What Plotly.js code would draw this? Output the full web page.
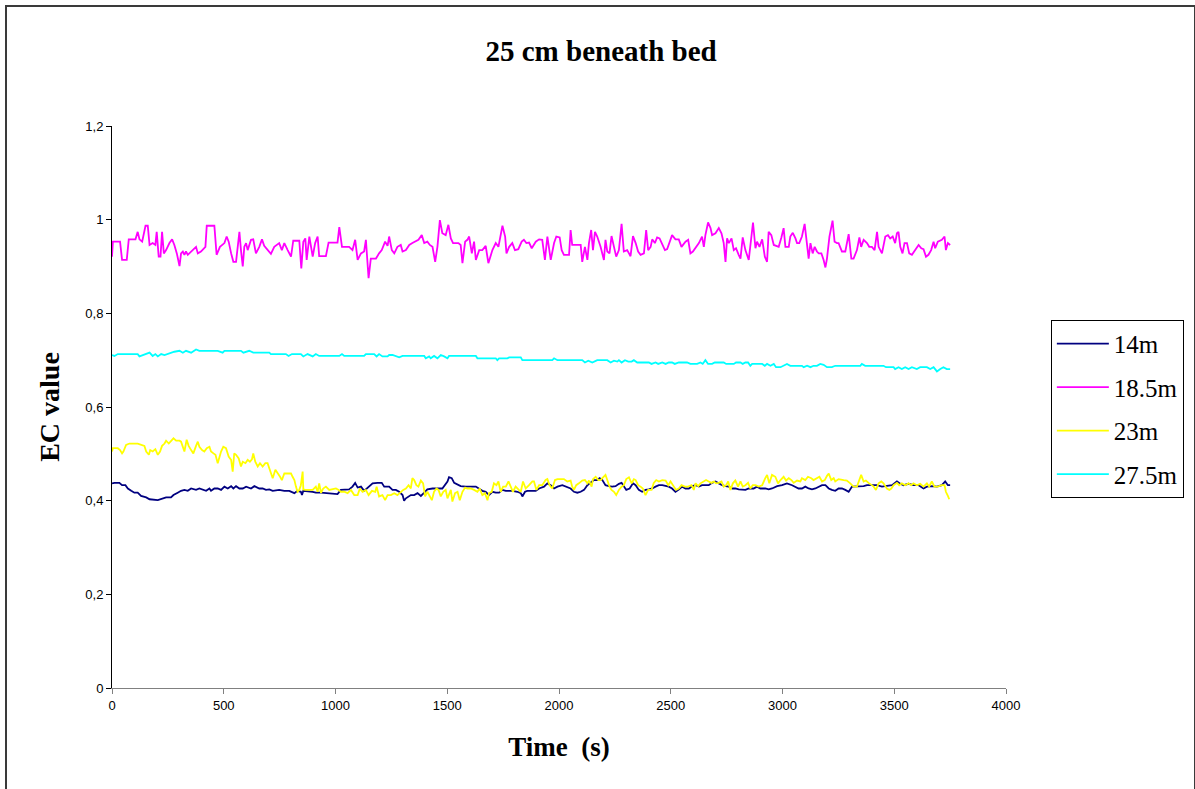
<!DOCTYPE html>
<html>
<head>
<meta charset="utf-8">
<script src="https://cdn.plot.ly/plotly-3.0.1.min.js"></script>
<style>
  html, body { margin: 0; padding: 0; background: #fff; overflow: hidden; }
  #chart { width: 1195px; height: 789px; }
  #frame { position: absolute; left: 5px; top: 5px; width: 1187px; height: 900px;
           border: 2px solid #3a3a3a; pointer-events: none; }
</style>
</head>
<body>
<div id="chart"></div>
<div id="frame"></div>
<script>
// ---------- Data ----------
const seriesNames = ["14m", "18.5m", "23m", "27.5m"];
const seriesColors = ["#000080", "#FF00FF", "#FFFF00", "#00FFFF"];

// 14m
const t14 = [
 0,11,33,45,60,71,86,100,115,130,
 153,168,205,220,242,264,275,294,309,324,
 339,354,376,391,406,421,436,443,458,473,
 488,503,518,533,543,555,570,585,600,622,
 637,659,674,689,704,719,748,771,793,816,
 830,845,850,856,898,912,935,957,987,1009,
 1024,1047,1061,1076,1088,1099,1114,1128,1148,1166,
 1188,1207,1218,1240,1255,1270,1285,1300,1307,1315,
 1337,1352,1367,1382,1397,1411,1434,1478,1501,1508,
 1520,1531,1560,1583,1628,1643,1657,1672,1687,1702,
 1717,1732,1747,1762,1791,1814,1829,1836,1848,1858,
 1896,1911,1933,1948,1963,1978,1993,2015,2030,2052,
 2067,2082,2097,2112,2127,2141,2156,2171,2182,2194,
 2208,2223,2238,2253,2268,2280,2290,2301,2316,2331,
 2343,2357,2372,2387,2402,2417,2432,2447,2462,2477,
 2491,2506,2521,2536,2551,2566,2581,2596,2611,2626,
 2640,2655,2670,2685,2700,2715,2730,2745,2760,2775,
 2789,2804,2819,2834,2849,2871,2886,2901,2923,2938,
 2953,2976,2998,3020,3043,3058,3072,3087,3102,3117,
 3132,3147,3162,3177,3192,3207,3221,3236,3251,3266,
 3281,3296,3311,3326,3341,3363,3378,3400,3423,3445,
 3460,3490,3512,3527,3542,3564,3586,3609,3631,3646,
 3668,3691,3713,3728,3740,3750];
const v14 = [
 .437,.438,.438,.433,.433,.426,.421,.417,.417,.410,
 .407,.403,.401,.403,.407,.407,.412,.417,.421,.423,
 .421,.426,.423,.426,.423,.421,.426,.421,.426,.426,
 .423,.430,.426,.431,.426,.431,.426,.426,.430,.426,
 .431,.426,.426,.423,.424,.421,.423,.421,.421,.416,
 .421,.419,.412,.421,.419,.417,.417,.416,.414,.414,
 .423,.423,.424,.430,.438,.428,.430,.421,.430,.437,
 .438,.438,.430,.430,.423,.423,.419,.412,.400,.405,
 .412,.412,.416,.410,.417,.424,.426,.426,.441,.450,
 .448,.438,.431,.430,.430,.426,.421,.419,.412,.419,
 .417,.417,.423,.421,.421,.419,.416,.409,.419,.421,
 .421,.426,.430,.437,.433,.426,.430,.433,.430,.426,
 .419,.417,.419,.423,.433,.438,.444,.444,.448,.444,
 .433,.431,.430,.431,.436,.438,.430,.423,.426,.437,
 .433,.423,.419,.423,.424,.426,.430,.433,.433,.431,
 .430,.426,.419,.424,.430,.426,.426,.431,.433,.430,
 .433,.433,.433,.438,.441,.437,.433,.431,.430,.426,
 .426,.424,.424,.423,.426,.426,.430,.426,.426,.424,
 .426,.431,.433,.437,.433,.430,.426,.426,.430,.426,
 .424,.426,.430,.433,.433,.426,.423,.421,.426,.426,
 .423,.419,.430,.430,.431,.431,.433,.433,.433,.430,
 .431,.433,.441,.436,.433,.436,.433,.433,.426,.430,
 .431,.430,.433,.441,.433,.433];

// 18.5m
const t185 = [
 0,4,36,45,66,71,75,105,115,123,
 135,150,160,168,182,194,200,209,217,224,
 232,242,257,269,279,290,302,309,317,324,
 331,339,354,364,376,384,398,418,424,458,
 468,483,503,513,522,533,543,555,570,577,
 585,592,600,607,622,632,644,659,671,681,
 696,711,726,748,760,771,786,801,811,838,
 847,856,865,871,883,898,909,920,927,957,
 969,1009,1017,1029,1061,1076,1088,1099,1114,1128,
 1136,1148,1158,1181,1195,1207,1222,1233,1240,1252,
 1263,1277,1292,1300,1315,1330,1344,1356,1371,1386,
 1397,1411,1422,1434,1446,1456,1467,1478,1493,1505,
 1516,1526,1550,1560,1568,1580,1590,1598,1610,1620,
 1628,1643,1657,1672,1684,1702,1717,1729,1747,1759,
 1765,1777,1791,1803,1818,1833,1843,1854,1866,1878,
 1896,1911,1925,1937,1948,1963,1978,1988,2003,2012,
 2022,2045,2052,2059,2097,2104,2116,2127,2134,2144,
 2152,2161,2171,2186,2201,2208,2216,2226,2235,2246,
 2256,2268,2280,2290,2305,2320,2331,2343,2354,2365,
 2380,2390,2399,2410,2417,2429,2439,2450,2462,2474,
 2484,2494,2506,2521,2536,2548,2566,2578,2588,2599,
 2611,2626,2640,2648,2655,2667,2678,2685,2700,2715,
 2727,2737,2745,2752,2760,2772,2782,2792,2804,2812,
 2822,2834,2849,2861,2868,2879,2886,2897,2909,2921,
 2931,2938,2950,2961,2971,2983,2995,3005,3013,3028,
 3035,3046,3058,3065,3075,3087,3099,3117,3125,3135,
 3144,3154,3162,3174,3184,3192,3199,3210,3224,3233,
 3244,3251,3266,3281,3296,3308,3318,3333,3344,3352,
 3363,3378,3388,3400,3412,3423,3430,3445,3460,3472,
 3482,3493,3504,3512,3519,3527,3537,3546,3557,3567,
 3579,3594,3609,3621,3631,3642,3653,3665,3676,3683,
 3695,3713,3725,3731,3740,3750];
const v185 = [
 .921,.953,.953,.914,.914,.950,.958,.958,.974,.958,
 .953,.987,.987,.946,.950,.946,.974,.921,.921,.974,
 .928,.935,.950,.958,.946,.928,.901,.928,.932,.925,
 .932,.925,.932,.935,.942,.928,.932,.942,.987,.987,
 .925,.942,.950,.964,.953,.928,.910,.910,.974,.935,
 .900,.942,.950,.935,.957,.958,.928,.942,.958,.944,
 .935,.927,.942,.950,.935,.950,.935,.921,.955,.955,
 .896,.953,.960,.914,.964,.921,.950,.964,.922,.922,
 .951,.951,.984,.942,.942,.935,.957,.914,.928,.932,
 .957,.875,.917,.917,.928,.935,.953,.944,.964,.935,
 .928,.942,.946,.932,.935,.946,.950,.953,.957,.967,
 .950,.953,.946,.942,.910,.942,.999,.971,.967,.989,
 .960,.950,.950,.946,.907,.953,.957,.964,.928,.953,
 .914,.935,.935,.944,.907,.935,.950,.942,.987,.964,
 .928,.942,.950,.935,.937,.953,.957,.950,.951,.939,
 .953,.958,.957,.914,.964,.914,.950,.964,.962,.935,
 .925,.925,.978,.946,.946,.910,.942,.914,.950,.978,
 .935,.974,.964,.942,.914,.957,.932,.928,.965,.942,
 .921,.935,.991,.932,.935,.922,.965,.950,.932,.925,
 .928,.978,.935,.942,.958,.950,.962,.960,.946,.935,
 .937,.953,.967,.958,.958,.942,.953,.957,.928,.932,
 .939,.950,.964,.942,.967,.994,.982,.967,.971,.982,
 .971,.950,.910,.960,.950,.960,.935,.939,.925,.917,
 .962,.935,.914,.964,.994,.939,.953,.942,.958,.921,
 .910,.974,.967,.946,.944,.942,.962,.982,.942,.942,
 .964,.972,.960,.950,.950,.964,.991,.917,.950,.928,
 .942,.932,.928,.928,.914,.898,.917,.964,.998,.953,
 .950,.950,.932,.932,.969,.917,.917,.935,.962,.942,
 .957,.950,.942,.942,.935,.974,.942,.928,.964,.967,
 .960,.964,.950,.971,.974,.942,.928,.950,.950,.928,
 .925,.935,.946,.939,.937,.921,.925,.935,.953,.939,
 .953,.957,.964,.935,.950,.946];

// 23m
const t23 = [
 0,4,26,36,45,51,63,78,115,130,
 145,153,165,171,182,194,205,215,224,235,
 242,254,264,275,287,302,309,317,324,334,
 343,354,364,376,384,391,403,413,424,436,
 443,454,463,473,480,488,498,510,522,533,
 540,547,555,567,577,585,597,607,617,626,
 632,641,652,662,674,686,696,707,719,731,
 741,752,760,771,786,801,808,816,823,830,
 838,845,853,856,865,898,912,920,927,935,
 945,957,972,987,1002,1014,1024,1039,1054,1069,
 1084,1099,1109,1121,1136,1148,1163,1178,1184,1195,
 1210,1222,1233,1248,1263,1277,1292,1303,1315,1327,
 1337,1344,1352,1362,1371,1382,1392,1401,1411,1419,
 1431,1441,1452,1461,1471,1482,1493,1501,1516,1523,
 1535,1546,1556,1568,1580,1590,1605,1620,1635,1645,
 1657,1669,1680,1687,1699,1709,1720,1729,1739,1750,
 1762,1774,1784,1794,1806,1818,1829,1839,1851,1866,
 1881,1888,1899,1911,1925,1940,1948,1958,1970,1982,
 1993,2022,2037,2052,2059,2067,2077,2089,2104,2116,
 2127,2134,2146,2152,2164,2176,2186,2194,2201,2208,
 2216,2226,2235,2246,2256,2268,2280,2290,2301,2313,
 2325,2335,2343,2354,2365,2375,2387,2399,2414,2424,
 2435,2447,2462,2477,2489,2499,2514,2524,2536,2548,
 2563,2578,2593,2603,2611,2623,2633,2648,2658,2670,
 2682,2693,2703,2715,2727,2737,2748,2757,2767,2778,
 2789,2801,2812,2822,2834,2846,2856,2867,2879,2894,
 2909,2923,2931,2941,2953,2968,2980,2991,3005,3016,
 3028,3040,3050,3065,3080,3087,3102,3114,3129,3139,
 3154,3165,3177,3189,3199,3207,3218,3229,3236,3251,
 3274,3288,3303,3318,3333,3344,3352,3363,3373,3385,
 3397,3408,3418,3430,3442,3452,3467,3478,3487,3497,
 3512,3522,3534,3549,3564,3576,3586,3601,3616,3631,
 3646,3656,3668,3680,3695,3713,3725,3731,3740,3746];
const v23 = [
 .505,.512,.512,.508,.501,.505,.519,.522,.522,.519,
 .517,.505,.498,.508,.505,.510,.498,.505,.517,.522,
 .528,.522,.528,.533,.528,.528,.526,.512,.505,.530,
 .517,.508,.501,.517,.526,.515,.508,.505,.512,.515,
 .505,.501,.498,.480,.494,.505,.515,.512,.494,.487,
 .462,.501,.498,.490,.473,.483,.480,.487,.483,.488,
 .501,.483,.473,.480,.473,.480,.480,.466,.448,.466,
 .460,.451,.444,.458,.458,.458,.451,.444,.430,.419,
 .423,.433,.462,.424,.423,.423,.430,.419,.437,.417,
 .426,.430,.423,.424,.426,.423,.419,.419,.416,.423,
 .412,.412,.426,.419,.423,.412,.421,.419,.430,.409,
 .412,.401,.412,.412,.416,.412,.419,.423,.426,.433,
 .426,.448,.444,.433,.430,.443,.437,.409,.419,.412,
 .401,.419,.426,.423,.409,.419,.423,.405,.423,.398,
 .416,.419,.401,.419,.428,.426,.426,.423,.419,.426,
 .412,.416,.401,.416,.419,.437,.433,.441,.419,.430,
 .430,.441,.430,.419,.430,.423,.419,.441,.426,.433,
 .441,.441,.423,.433,.433,.444,.446,.433,.426,.444,
 .446,.446,.441,.443,.430,.423,.433,.437,.443,.444,
 .437,.443,.430,.446,.451,.444,.444,.448,.451,.455,
 .444,.430,.423,.419,.412,.423,.430,.433,.446,.450,
 .437,.446,.444,.433,.430,.426,.412,.423,.423,.438,
 .444,.441,.444,.443,.433,.441,.430,.423,.426,.433,
 .430,.430,.433,.423,.437,.431,.437,.441,.444,.441,
 .438,.441,.437,.438,.441,.430,.433,.441,.423,.437,
 .443,.430,.441,.430,.433,.438,.426,.433,.433,.430,
 .433,.448,.455,.437,.455,.451,.437,.444,.451,.443,
 .448,.444,.438,.443,.441,.448,.444,.451,.448,.444,
 .448,.451,.441,.444,.453,.458,.444,.448,.441,.446,
 .444,.443,.437,.430,.430,.444,.455,.441,.443,.438,
 .433,.430,.423,.437,.441,.437,.426,.423,.426,.433,
 .438,.433,.437,.433,.437,.433,.437,.433,.436,.430,
 .437,.430,.441,.430,.430,.433,.433,.419,.410,.403];

// 27.5m
const t275 = [
 0,11,26,115,123,138,168,182,194,205,
 220,235,257,279,302,317,331,354,376,391,
 473,495,503,577,588,607,614,632,704,711,
 778,790,805,845,856,875,898,912,927,935,
 1017,1029,1039,1128,1136,1173,1184,1195,1210,1233,
 1240,1255,1285,1300,1397,1404,1419,1426,1441,1456,
 1471,1486,1501,1508,1628,1635,1717,1724,1732,1769,
 1777,1829,1836,1970,1978,1993,2003,2104,2116,2131,
 2149,2171,2216,2231,2246,2261,2268,2280,2295,2310,
 2325,2335,2350,2402,2414,2432,2444,2462,2477,2491,
 2506,2518,2536,2573,2588,2618,2633,2643,2655,2667,
 2685,2697,2737,2748,2782,2792,2812,2822,2834,2846,
 2856,2864,2909,2921,2931,2946,2961,2971,2991,3005,
 3020,3035,3087,3095,3110,3125,3139,3154,3169,3184,
 3199,3221,3236,3348,3355,3370,3452,3463,3497,3504,
 3519,3534,3549,3564,3579,3601,3616,3646,3661,3676,
 3691,3706,3720,3735,3750];
const v275 = [
 .711,.709,.713,.713,.708,.711,.716,.709,.713,.708,
 .713,.711,.715,.718,.720,.716,.720,.716,.723,.720,
 .720,.716,.720,.720,.716,.718,.720,.716,.716,.713,
 .713,.709,.713,.713,.708,.713,.708,.713,.709,.709,
 .709,.713,.709,.709,.713,.713,.708,.713,.708,.708,
 .711,.711,.706,.709,.709,.704,.708,.704,.709,.704,
 .711,.708,.704,.709,.709,.704,.704,.700,.704,.704,
 .706,.706,.700,.700,.704,.700,.700,.700,.695,.699,
 .695,.700,.700,.695,.699,.697,.700,.695,.700,.697,
 .697,.700,.695,.695,.692,.695,.692,.695,.692,.695,
 .695,.692,.695,.695,.692,.692,.695,.692,.700,.692,
 .692,.695,.695,.692,.692,.695,.695,.692,.695,.695,
 .688,.692,.692,.688,.692,.688,.692,.685,.685,.688,
 .692,.688,.688,.685,.688,.685,.688,.688,.692,.690,
 .685,.685,.688,.688,.692,.688,.688,.685,.685,.681,
 .685,.681,.685,.681,.685,.681,.685,.685,.681,.685,
 .676,.681,.685,.681,.681];

const timeData = [t14, t185, t23, t275];
const valueData = [v14, v185, v23, v275];

// Axis ticks
const xTickVals = [0, 500, 1000, 1500, 2000, 2500, 3000, 3500, 4000];
const xTickText = ["0", "500", "1000", "1500", "2000", "2500", "3000", "3500", "4000"];
const yTickVals = [0, 0.2, 0.4, 0.6, 0.8, 1, 1.2];
const yTickText = ["0", "0,2", "0,4", "0,6", "0,8", "1", "1,2"];

const chartTitle = "25 cm beneath bed";
const xTitle = "Time&nbsp;&nbsp;(s)";
const yTitle = "EC value";

// ---------- Build ----------
const serif = "Liberation Serif, Times New Roman, serif";
const sans = "Liberation Sans, Arial, sans-serif";

const traces = seriesNames.map((name, i) => ({
  x: timeData[i],
  y: valueData[i],
  type: "scatter",
  mode: "lines",
  name: name,
  legendgroup: name,
  line: { color: seriesColors[i], width: 1.8 }
}));

const layout = {
  width: 1195,
  height: 789,
  paper_bgcolor: "#ffffff",
  plot_bgcolor: "#ffffff",
  margin: { l: 112, r: 188, t: 126, b: 101 },
  title: {
    text: "<b>" + chartTitle + "</b>",
    font: { family: serif, size: 29, color: "#000" },
    xref: "container", x: 0.503,
    yref: "container", y: 0.936, yanchor: "middle"
  },
  xaxis: {
    range: [0, 4000],
    tickvals: xTickVals, ticktext: xTickText,
    ticks: "outside", ticklen: 5, tickcolor: "#808080", tickwidth: 1,
    showline: true, linecolor: "#808080", linewidth: 1,
    showgrid: false, zeroline: false,
    tickfont: { family: sans, size: 13, color: "#000" },
    title: { text: "<b>" + xTitle + "</b>", font: { family: serif, size: 27, color: "#000" }, standoff: 25 }
  },
  yaxis: {
    range: [0, 1.2],
    tickvals: yTickVals, ticktext: yTickText,
    ticks: "outside", ticklen: 5, tickcolor: "#000", tickwidth: 1,
    showline: true, linecolor: "#000", linewidth: 1,
    showgrid: false, zeroline: false,
    tickfont: { family: sans, size: 13, color: "#000" },
    title: { text: "<b>" + yTitle + "</b>", font: { family: serif, size: 28, color: "#000" }, standoff: 17 }
  },
  showlegend: true,
  legend: {
    x: 1.049, xanchor: "left",
    y: 0.655, yanchor: "top",
    bordercolor: "#000", borderwidth: 1,
    bgcolor: "#fff",
    font: { family: serif, size: 25, color: "#000" },
    tracegroupgap: 8,
    itemwidth: 52,
    traceorder: "grouped"
  }
};

Plotly.newPlot("chart", traces, layout, { displayModeBar: false, staticPlot: true });
</script>
</body>
</html>
